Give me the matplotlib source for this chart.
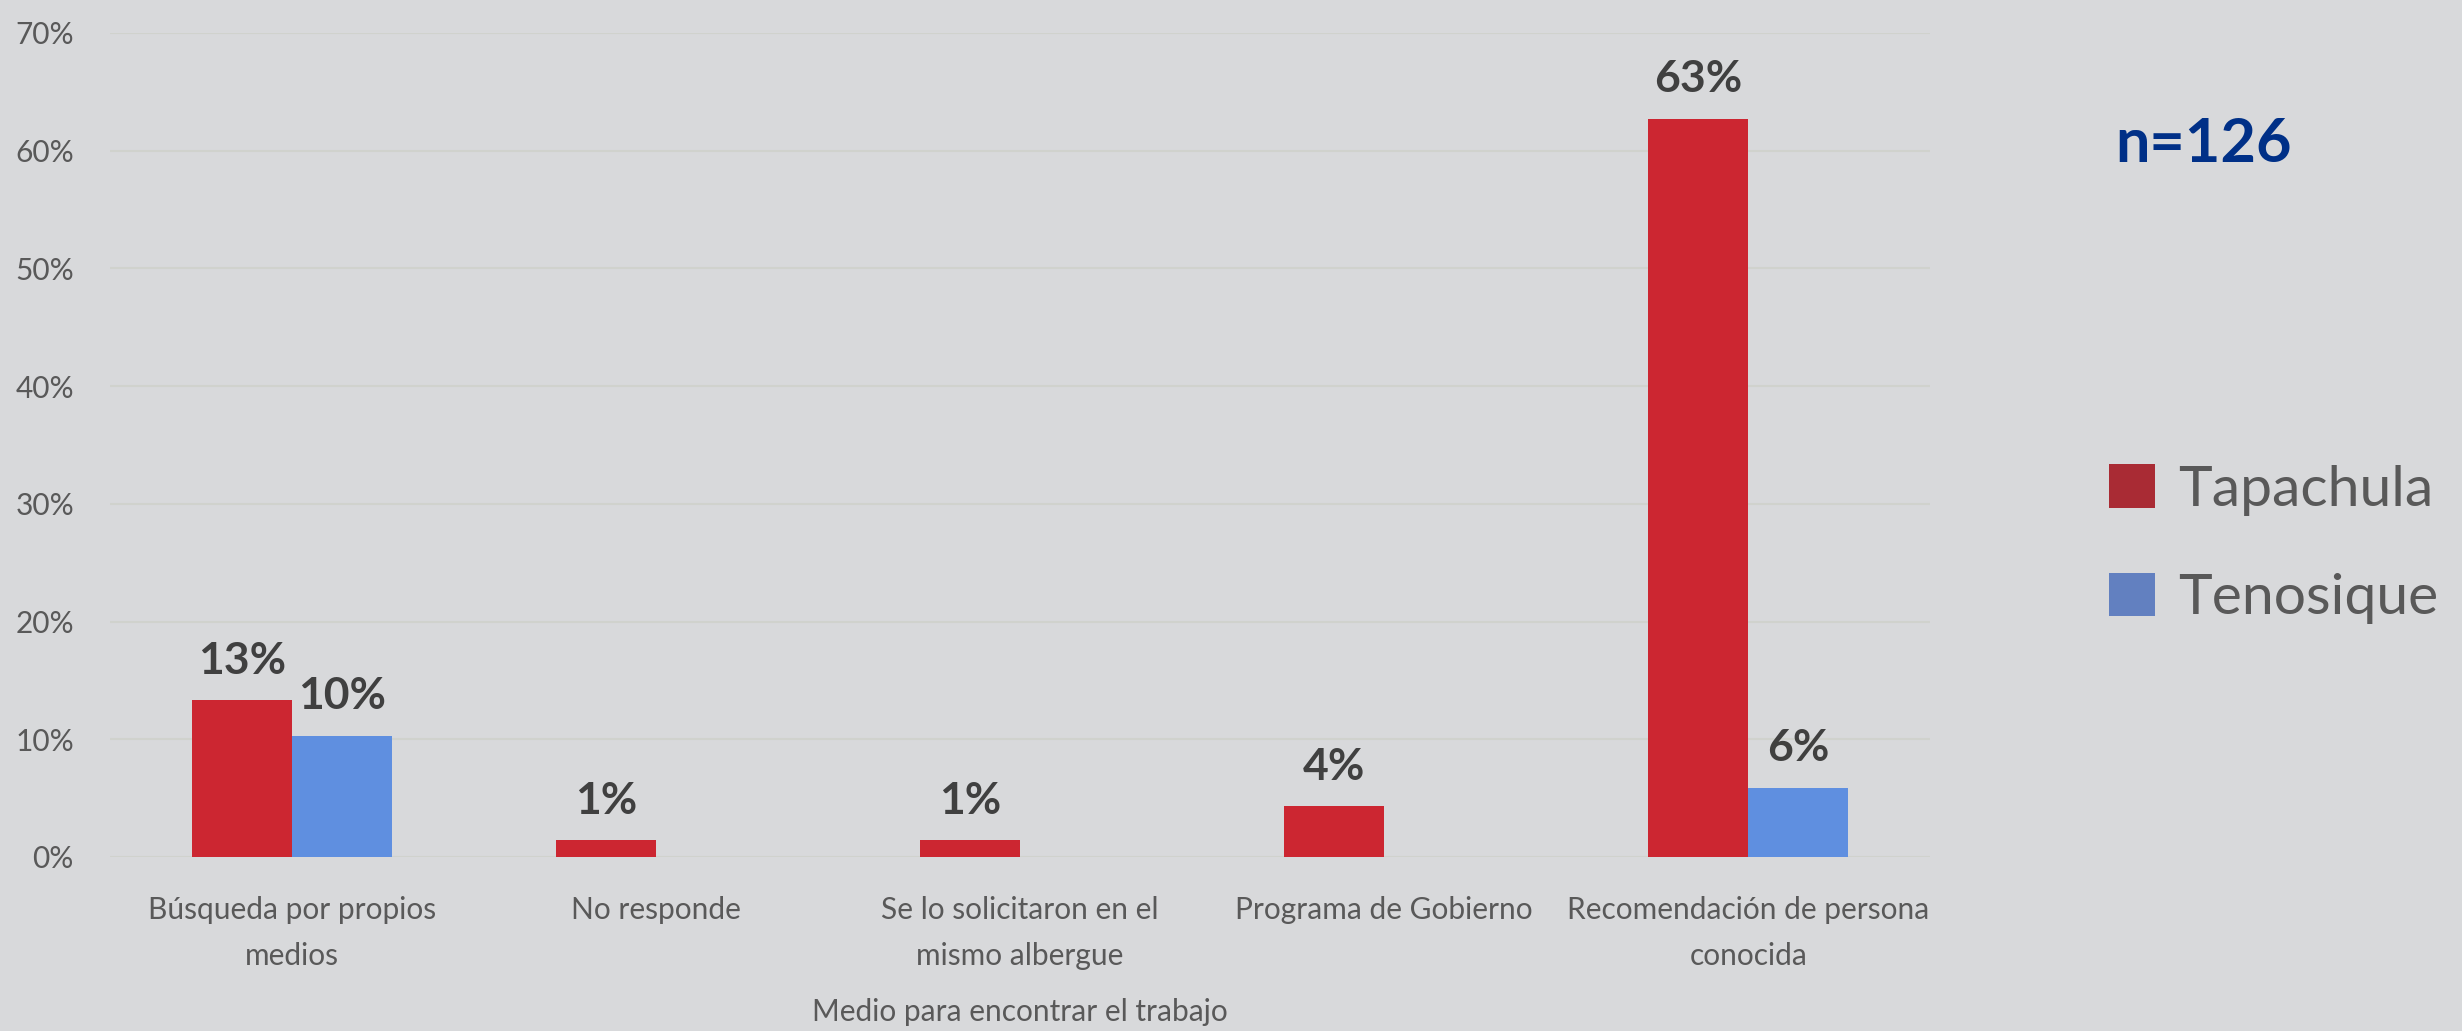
import matplotlib
matplotlib.use("Agg")
import matplotlib.pyplot as plt
from matplotlib.patches import Patch
import numpy as np

categories = ["Búsqueda por propios\nmedios", "No responde", "Se lo solicitaron en el\nmismo albergue",
              "Programa de Gobierno", "Recomendación de persona\nconocida"]
tapachula = [13.3, 1.4, 1.4, 4.3, 62.7]
tenosique = [10.3, 0, 0, 0, 5.9]
series_names = ["Tapachula", "Tenosique"]
yticks = [0, 10, 20, 30, 40, 50, 60, 70]
xlabel = "Medio para encontrar el trabajo"
note = "n=126"

BG = "#D8D9DB"
RED = "#CC2631"
BLUE = "#5F8FE0"
RED_LEG = "#A92B34"
BLUE_LEG = "#6280C0"
FONT = ["Lato", "DejaVu Sans"]

plt.rcParams['font.family'] = FONT

fig = plt.figure(figsize=(24.62, 10.31), dpi=100, facecolor=BG)
ax = fig.add_axes([0.0447, 0.1688, 0.7393, 0.7992], facecolor=BG)

x = np.arange(len(categories))
w = 0.275
b1 = ax.bar(x - w / 2, tapachula, w, color=RED, zorder=3)
b2 = ax.bar(x + w / 2, tenosique, w, color=BLUE, zorder=3)

for bars, vals in ((b1, tapachula), (b2, tenosique)):
    for r, v in zip(bars, vals):
        if v > 0:
            ax.annotate(f"{v:.0f}%", (r.get_x() + r.get_width() / 2, v), xytext=(0, 14),
                        textcoords="offset points", ha="center", va="bottom",
                        fontsize=32, fontweight="bold", color="#404040")

ax.set_xlim(-0.5, len(categories) - 0.5)
ax.set_ylim(0, 70)
ax.set_yticks(yticks)
ax.set_yticklabels([f"{t}%" for t in yticks])
ax.set_xticks(x)
ax.set_xticklabels(categories, linespacing=1.8)
ax.tick_params(axis="y", length=0, pad=26, labelsize=21.5, labelcolor="#595959")
ax.tick_params(axis="x", length=0, pad=28, labelsize=21.5, labelcolor="#595959")
ax.grid(axis="y", color="#D0D2CD", linewidth=1.5, zorder=0)
for s in ax.spines.values():
    s.set_visible(False)

ax.set_xlabel(xlabel, fontsize=21.5, color="#595959", labelpad=20)

fig.text(0.895, 0.86, note, ha="center", va="center", fontsize=44, fontweight="bold", color="#003087")

handles = [Patch(facecolor=RED_LEG), Patch(facecolor=BLUE_LEG)]
fig.legend(handles, series_names, loc="center left", bbox_to_anchor=(0.836, 0.472),
           frameon=False, fontsize=41, labelcolor="#595959", handlelength=0.8,
           handleheight=0.8, handletextpad=0.4, labelspacing=1.0)

fig.savefig("out.png", dpi=100, facecolor=BG)
